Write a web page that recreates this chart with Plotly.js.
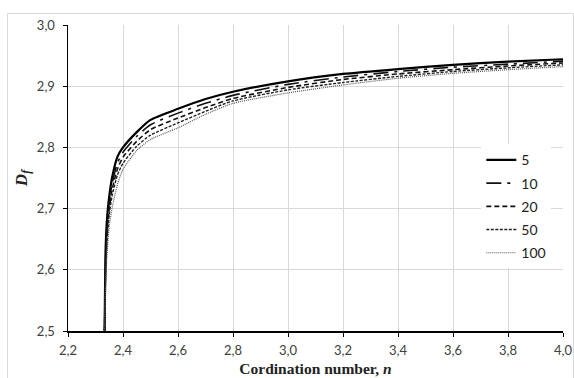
<!DOCTYPE html>
<html>
<head>
<meta charset="utf-8">
<script src="https://cdn.plot.ly/plotly-3.0.1.min.js"></script>
<style>
  html, body { margin: 0; padding: 0; background: #fff; }
  #chart { width: 574px; height: 378px; }
</style>
</head>
<body>
<div id="chart"></div>
<script>
// Coordination number n (shared by every curve)
const coordN = [2.333, 2.336, 2.34, 2.345, 2.35, 2.36, 2.38, 2.4, 2.45, 2.5,
                2.6, 2.7, 2.8, 3.0, 3.2, 3.4, 3.6, 3.8, 4.0];

// Fractal dimension D_f for each parameter value
const seriesNames = ['5', '10', '20', '50', '100'];
const df5   = [2.50, 2.62, 2.67, 2.70, 2.72, 2.75, 2.785, 2.800, 2.825, 2.845,
               2.863, 2.879, 2.891, 2.908, 2.920, 2.928, 2.935, 2.940, 2.944];
const df10  = [2.50, 2.60, 2.655, 2.69, 2.71, 2.74, 2.775, 2.792, 2.818, 2.837,
               2.856, 2.872, 2.885, 2.903, 2.915, 2.924, 2.931, 2.936, 2.941];
const df20  = [2.50, 2.59, 2.645, 2.68, 2.70, 2.73, 2.765, 2.784, 2.810, 2.829,
               2.848, 2.865, 2.880, 2.898, 2.911, 2.920, 2.927, 2.933, 2.938];
const df50  = [2.50, 2.575, 2.63, 2.665, 2.69, 2.72, 2.755, 2.774, 2.802, 2.820,
               2.840, 2.859, 2.876, 2.894, 2.906, 2.916, 2.924, 2.930, 2.935];
const df100 = [2.50, 2.56, 2.61, 2.645, 2.67, 2.70, 2.74, 2.764, 2.795, 2.813,
               2.832, 2.854, 2.872, 2.889, 2.902, 2.913, 2.921, 2.927, 2.932];

const xTicks = [2.2, 2.4, 2.6, 2.8, 3.0, 3.2, 3.4, 3.6, 3.8, 4.0];
const yTicks = [2.5, 2.6, 2.7, 2.8, 2.9, 3.0];

const seriesValues = [df5, df10, df20, df50, df100];
const styles = [
  { dash: 'solid', width: 2.2, color: '#000000' },
  { dash: 'longdashdot', width: 1.6, color: '#111111' },
  { dash: '5px,3px', width: 1.6, color: '#111111' },
  { dash: '3px,1.5px', width: 1.4, color: '#222222' },
  { dash: '1px,1px', width: 1.2, color: '#555555' }
];

const traces = seriesValues.map((vals, i) => ({
  x: coordN,
  y: vals,
  name: seriesNames[i],
  type: 'scatter',
  mode: 'lines',
  legendgroup: 'g' + i,
  line: { color: styles[i].color, width: styles[i].width, dash: styles[i].dash, shape: 'spline', smoothing: 0.6 }
}));

const tickFont = { family: 'Lato, "Open Sans", sans-serif', size: 13, color: '#404040' };

const layout = {
  width: 574,
  height: 378,
  margin: { l: 68, r: 11, t: 25, b: 47 },
  paper_bgcolor: '#ffffff',
  plot_bgcolor: '#ffffff',
  separators: ', ',
  showlegend: true,
  legend: {
    x: 0.835, y: 0.61, xanchor: 'left', yanchor: 'top',
    bgcolor: '#ffffff',
    font: { family: 'Lato, "Open Sans", sans-serif', size: 14, color: '#222222' },
    tracegroupgap: 2,
    itemwidth: 30
  },
  xaxis: {
    range: [2.2, 4.0],
    tickvals: xTicks,
    tickformat: '.1f',
    tickfont: tickFont,
    ticklabelstandoff: 3,
    showgrid: true, gridcolor: '#d9d9d9', gridwidth: 1,
    showline: true, linecolor: '#000000', linewidth: 1.5,
    ticks: 'outside', ticklen: 4, tickcolor: '#000000', tickwidth: 1,
    zeroline: false,
    title: {
      text: '<b>Cordination number, <i>n</i></b>',
      font: { family: '"Liberation Serif", "DejaVu Serif", serif', size: 15.5, color: '#222222' },
      standoff: 6
    }
  },
  yaxis: {
    range: [2.5, 3.0],
    tickvals: yTicks,
    tickformat: '.1f',
    tickfont: tickFont,
    ticklabelstandoff: 5,
    showgrid: true, gridcolor: '#d9d9d9', gridwidth: 1,
    showline: true, linecolor: '#000000', linewidth: 1.5,
    ticks: 'outside', ticklen: 4, tickcolor: '#000000', tickwidth: 1,
    zeroline: false,
    title: {
      text: '<b><i>D<sub>f</sub></i></b>',
      font: { family: '"Liberation Serif", "DejaVu Serif", serif', size: 17, color: '#222222' },
      standoff: 5
    }
  },
  shapes: [{
    type: 'rect', xref: 'paper', yref: 'paper',
    x0: -0.1222, x1: 1.0212, y0: -0.16, y1: 1.0376,
    line: { color: '#d9d9d9', width: 1 }, fillcolor: 'rgba(0,0,0,0)', layer: 'below'
  }]
};

Plotly.newPlot('chart', traces, layout, { displayModeBar: false, staticPlot: true });
</script>
</body>
</html>
